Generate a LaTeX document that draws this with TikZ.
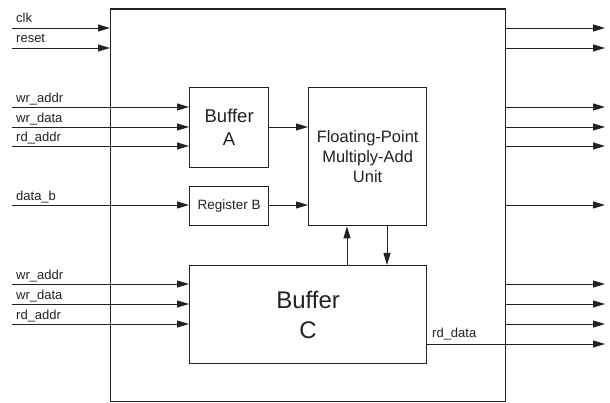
\documentclass[tikz,border=0pt]{standalone}
\usepackage{fontspec}
\setmainfont{Liberation Sans}
\usetikzlibrary{arrows.meta}
\definecolor{ink}{HTML}{222222}
\begin{document}
\begin{tikzpicture}[x=1pt,y=-1pt,
  blk/.style={draw=ink,line width=1.3pt,inner sep=0pt,anchor=north west,align=center,text=ink},
  sig/.style={draw=ink,line width=0.9pt,-{Triangle[length=12pt,width=7pt]}},
  lbl/.style={anchor=base west,font=\fontsize{13}{13}\selectfont,inner sep=0pt,text=ink}]
\useasboundingbox (0,0) rectangle (610,403);
% blocks
\node[blk,minimum width=395pt,minimum height=392pt] (top) at (110,8.5) {};
\node[blk,minimum width=79pt,minimum height=80pt,font=\fontsize{18.5}{23}\selectfont] (bufA) at (189,87) {Buffer\\A};
\node[blk,minimum width=79pt,minimum height=39pt,font=\fontsize{13.5}{16}\selectfont] (regB) at (189,186) {Register B};
\node[blk,minimum width=118pt,minimum height=138pt,font=\fontsize{16.5}{20}\selectfont] (fpu) at (308,87) {Floating-Point\\Multiply-Add\\Unit};
\node[blk,minimum width=237pt,minimum height=98pt,font=\fontsize{24}{30}\selectfont] (bufC) at (189,265) {Buffer\\C};
% input coordinates
\coordinate (iclk) at (12,28);
\coordinate (irst) at (12,48);
\coordinate (iwa1) at (12,107);
\coordinate (iwd1) at (12,127);
\coordinate (ira1) at (12,146);
\coordinate (idb) at (12,205);
\coordinate (iwa2) at (12,284);
\coordinate (iwd2) at (12,304);
\coordinate (ira2) at (12,324);
% inputs
\draw[sig] (iclk) -- (iclk -| top.west);
\draw[sig] (irst) -- (irst -| top.west);
\draw[sig] (iwa1) -- (iwa1 -| bufA.west);
\draw[sig] (iwd1) -- (iwd1 -| bufA.west);
\draw[sig] (ira1) -- (ira1 -| bufA.west);
\draw[sig] (idb) -- (idb -| regB.west);
\draw[sig] (iwa2) -- (iwa2 -| bufC.west);
\draw[sig] (iwd2) -- (iwd2 -| bufC.west);
\draw[sig] (ira2) -- (ira2 -| bufC.west);
% input labels
\node[lbl] (lclk) at (16,23) {clk};
\node[lbl] (lrst) at (16,43) {reset};
\node[lbl] (lwa1) at (16,102.5) {wr\_addr};
\node[lbl] (lwd1) at (16,122.5) {wr\_data};
\node[lbl] (lra1) at (16,141.5) {rd\_addr};
\node[lbl] (ldb) at (16,200.5) {data\_b};
\node[lbl] (lwa2) at (16,279.5) {wr\_addr};
\node[lbl] (lwd2) at (16,299.5) {wr\_data};
\node[lbl] (lra2) at (16,319.5) {rd\_addr};
% internal connections
\draw[sig] (bufA.east |- iwd1) -- (fpu.west |- iwd1);
\draw[sig] (regB.east |- idb) -- (fpu.west |- idb);
\coordinate (up) at (347,0);
\coordinate (dn) at (387,0);
\draw[sig] (bufC.north -| up) -- (fpu.south -| up);
\draw[sig] (fpu.south -| dn) -- (bufC.north -| dn);
% outputs
\foreach \y/\n in {28/o1,48/o2,107/o3,127/o4,146/o5,205/o6,284/o7,304/o8,324/o9}{
  \coordinate (\n) at (605,\y);
  \draw[sig] (\n -| top.east) -- (\n);
}
\coordinate (ord) at (605,344);
\draw[sig] (bufC.east |- ord) -- (ord);
\node[lbl] (lrd) at (432,337.5) {rd\_data};
\end{tikzpicture}
\end{document}
